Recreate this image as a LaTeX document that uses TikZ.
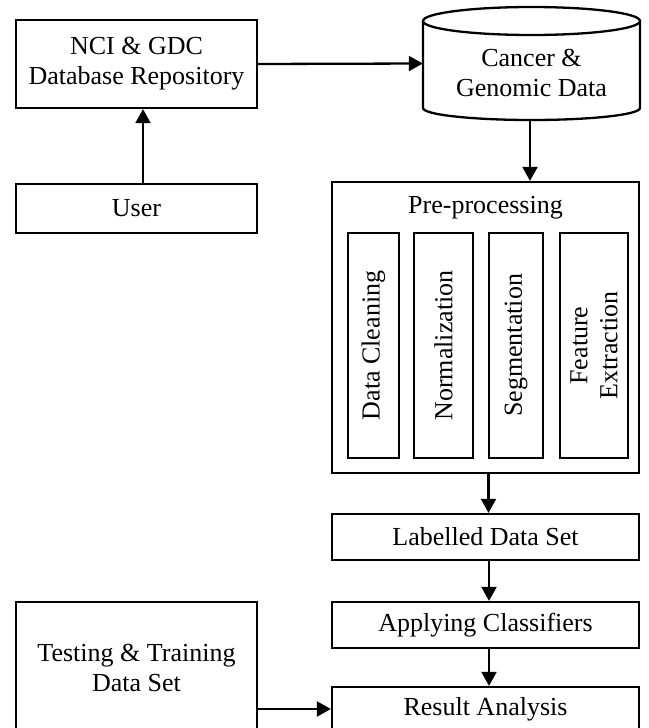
\documentclass[tikz,border=0pt]{standalone}
\usepackage{fontspec}
\setmainfont{Liberation Serif}
\usetikzlibrary{arrows.meta,calc}
\begin{document}
\begin{tikzpicture}[
  x=1pt, y=1pt,
  font=\fontsize{26}{30}\selectfont,
  line/.style={line width=2.3pt},
  box/.style={line, draw, inner sep=0pt, align=center},
  inbox/.style={line, draw, inner sep=0pt, align=center, rotate=90},
  arr/.style={line, -{Triangle[length=14pt,width=15pt]}},
  plain/.style={inner sep=0pt, align=center}
]
\useasboundingbox (0,0) rectangle (648,-728);

% left column
\node[box, minimum width=241, minimum height=88] (nci) at (136.5,-64) {NCI \& GDC\\Database Repository};
\node[box, minimum width=241, minimum height=49] (user) at (136.5,-208.5) {User};
\node[box, minimum width=241, minimum height=132] (test) at (136.5,-668) {Testing \& Training\\Data Set};

% cylinder
\draw[line, fill=white] (423,-21) -- (423,-108) arc[start angle=180, end angle=360, x radius=108.5, y radius=12] -- (640,-21);
\draw[line] (531.5,-21) ellipse [x radius=108.5, y radius=14];
\node[inner sep=0pt, minimum width=217, minimum height=113] (cyl) at (531.5,-63.5) {};
\node[plain] (cyltext) at (531.5,-73) {Cancer \&\\Genomic Data};

% pre-processing
\node[box, minimum width=307, minimum height=291] (pre) at (485.5,-327.5) {};
\node[inner sep=0pt, anchor=base] (pretitle) at (485.5,-213) {Pre-processing};
\node[inbox, minimum width=225, minimum height=51] (dc) at (373.5,-345.5) {Data Cleaning};
\node[inbox, minimum width=225, minimum height=59] (norm) at (443.5,-345.5) {Normalization};
\node[inbox, minimum width=225, minimum height=54] (seg) at (516,-345.5) {Segmentation};
\node[inbox, minimum width=225, minimum height=68] (fe) at (594,-345.5) {Feature\\Extraction};

% right column lower
\node[box, minimum width=307, minimum height=46] (lab) at (485.5,-537) {Labelled Data Set};
\node[box, minimum width=307, minimum height=46] (app) at (485.5,-625) {Applying Classifiers};
\node[box, minimum width=307, minimum height=44] (res) at (485.5,-709) {Result Analysis};

% connectors
\draw[arr] ([xshift=6.5pt]user.north) -- ([xshift=6.5pt]nci.south);
\draw[arr] (nci.east) -- (cyl.west);
\draw[arr] ([xshift=-1.5pt]cyl.south) -- ([xshift=-1.5pt]cyl.south |- pre.north);
\draw[arr] ([xshift=3pt]pre.south) -- ([xshift=3pt]lab.north);
\draw[arr] ([xshift=3.5pt]lab.south) -- ([xshift=3.5pt]app.north);
\draw[arr] ([xshift=3.5pt]app.south) -- ([xshift=3.5pt]res.north);
\draw[arr] (res.west -| test.east) -- (res.west);
\end{tikzpicture}
\end{document}
